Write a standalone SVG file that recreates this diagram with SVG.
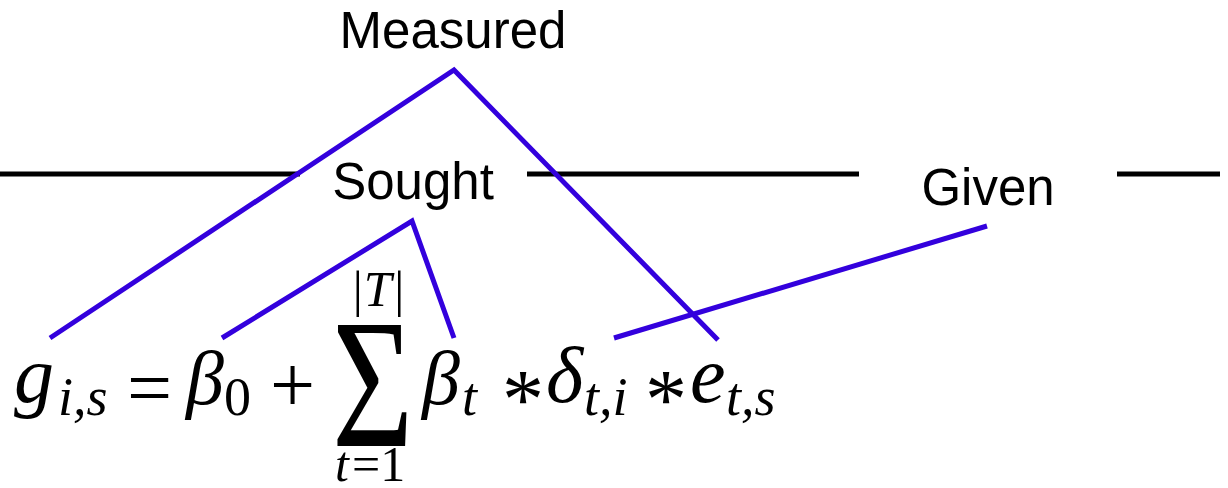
<svg xmlns="http://www.w3.org/2000/svg" width="1228" height="488" viewBox="0 0 1228 488">
<style>
.lbl{font-family:"Liberation Sans",Arial,sans-serif;font-size:51px;fill:#000;text-anchor:middle}
.m{font-family:"Liberation Serif","Times New Roman",serif;font-style:italic;fill:#000}
.n{font-family:"Liberation Serif","Times New Roman",serif;fill:#000}
.big{font-size:80px}
.bt{font-size:76px}
.sub{font-size:54px}
.lim{font-size:50px}
.blue{stroke:#3300dd;stroke-width:5;fill:none;stroke-linejoin:miter}
.rule{stroke:#000;stroke-width:5}
</style>
<rect width="1228" height="488" fill="#fff"/>
<g id="divider">
<line class="rule" x1="0" y1="174" x2="300" y2="174"/>
<line class="rule" x1="527" y1="174" x2="859" y2="174"/>
<line class="rule" x1="1117" y1="174" x2="1220" y2="174"/>
</g>
<g id="measured"><text class="lbl" x="453" y="48">Measured</text></g>
<g id="sought"><text class="lbl" x="413" y="199">Sought</text></g>
<g id="given"><text class="lbl" x="988" y="205">Given</text></g>
<g id="formula">
<text class="m big" x="14" y="402">g</text>
<text class="m sub" x="58" y="415">i,s</text>
<text class="n big" x="127" y="415">=</text>
<text class="m bt" x="186" y="404">β</text>
<text class="n sub" x="224" y="415">0</text>
<text class="n big" x="270" y="412">+</text>
<text class="n" x="0" y="0" font-size="140" transform="translate(332,446) scale(1,1.32)">Σ</text>
<text class="m lim" x="350" y="306">|T|</text>
<text class="m lim" x="335" y="481">t</text>
<text class="n lim" x="352" y="481">=1</text>
<text class="m bt" x="422" y="404">β</text>
<text class="m sub" x="462" y="415">t</text>
<text class="n" x="502" y="428" font-size="84">*</text>
<text class="m big" x="546" y="402">δ</text>
<text class="m sub" x="584" y="415">t,i</text>
<text class="n" x="645" y="428" font-size="84">*</text>
<text class="m big" x="690" y="402">e</text>
<text class="m sub" x="726" y="415">t,s</text>
</g>
<g id="connectors">
<polyline class="blue" points="50,338 454,70 718,340"/>
<polyline class="blue" points="222,338 412,221 454,338"/>
<line class="blue" x1="614" y1="338" x2="987" y2="226"/>
</g>
</svg>
